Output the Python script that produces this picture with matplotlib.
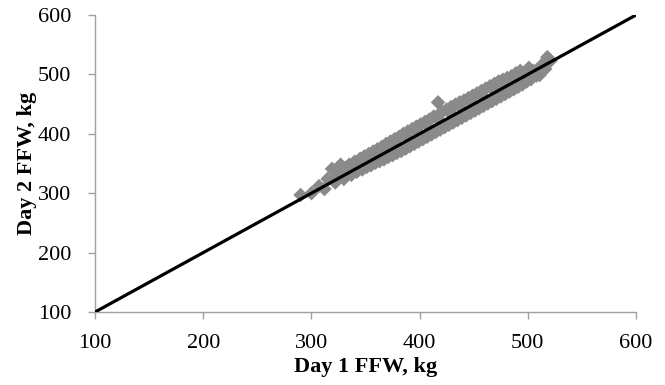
import matplotlib
matplotlib.use('Agg')
import matplotlib.pyplot as plt

# Day 1 vs Day 2 full-feed weight, kg
day1 = [290, 307, 312, 315, 319, 322, 324, 327, 330, 332, 335, 337, 340, 342,
        345, 347, 349, 351, 353, 355, 357, 359, 361, 363, 365, 367, 369, 371,
        373, 375, 377, 379, 381, 383, 385, 387, 389, 391, 393, 395, 397, 399,
        401, 403, 405, 407, 409, 411, 413, 415, 417, 418, 419, 421, 423, 425,
        427, 429, 431, 433, 435, 437, 439, 441, 443, 445, 447, 449, 451, 453,
        455, 457, 459, 461, 463, 465, 467, 469, 471, 473, 475, 477, 479, 481,
        483, 485, 487, 489, 491, 493, 495, 497, 499, 501, 503, 505, 508, 511,
        513, 516, 518, 521,
        300, 320, 340, 360, 380, 400, 420, 440, 460, 480, 500, 350, 370, 390,
        410, 430, 450, 470, 490, 510]
day2 = [297, 312, 307, 324, 341, 318, 336, 348, 324, 343, 348, 331, 353, 336,
        358, 340, 362, 344, 366, 347, 370, 351, 374, 354, 378, 357, 383, 361,
        387, 364, 391, 368, 395, 371, 400, 375, 404, 379, 408, 383, 412, 387,
        416, 391, 420, 395, 424, 399, 429, 403, 453, 433, 407, 437, 411, 441,
        415, 445, 419, 449, 423, 453, 427, 456, 431, 460, 435, 464, 439, 468,
        443, 472, 447, 476, 451, 480, 455, 484, 459, 488, 463, 491, 467, 494,
        471, 497, 475, 502, 479, 506, 483, 502, 488, 511, 492, 506, 498, 499,
        516, 509, 529, 523,
        300, 322, 341, 359, 381, 401, 419, 441, 461, 479, 501, 352, 368, 392,
        409, 432, 449, 472, 489, 509]

# 1:1 line
line_x = [100, 600]
line_y = [100, 600]

plt.rcParams['font.family'] = ['Liberation Serif', 'DejaVu Serif']

fig = plt.figure(figsize=(6.65, 3.85), dpi=100)
ax = fig.add_axes([0.1429, 0.1896, 0.8135, 0.7714])

ax.scatter(day1, day2, marker='D', s=55, color='#8a8a8a', edgecolors='none', zorder=2)
ax.plot(line_x, line_y, color='black', lw=2.3, zorder=3)

ax.set_xlim(100, 600)
ax.set_ylim(100, 600)
ax.set_xticks(range(100, 601, 100))
ax.set_yticks(range(100, 601, 100))

for s in ['top', 'right']:
    ax.spines[s].set_visible(False)
for s in ['left', 'bottom']:
    ax.spines[s].set_color('#a0a0a0')
    ax.spines[s].set_linewidth(1.0)
ax.tick_params(direction='out', length=5, width=1.0, color='#a0a0a0', labelsize=16)
ax.tick_params(axis='x', pad=11)
ax.tick_params(axis='y', pad=12)

ax.set_xlabel('Day 1 FFW, kg', fontsize=16, fontweight='bold', labelpad=2.5)
ax.set_ylabel('Day 2 FFW, kg', fontsize=16, fontweight='bold', labelpad=1)

fig.savefig('out.png', dpi=100)
